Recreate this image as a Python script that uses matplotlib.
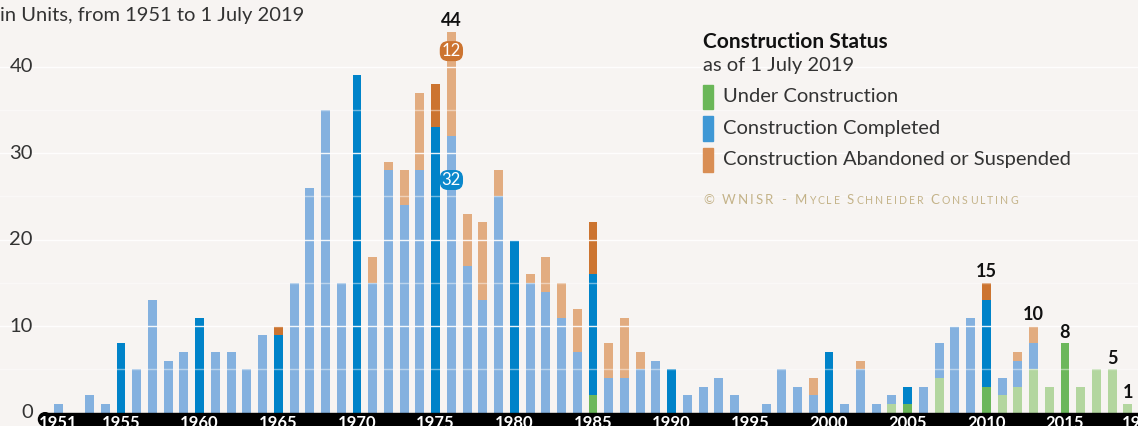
import matplotlib
matplotlib.use("Agg")
import matplotlib.pyplot as plt
from matplotlib.patches import Rectangle, Ellipse

# ==========================
# Data
# ==========================
years = list(range(1951, 2020))

under_construction = [0, 0, 0, 0, 0, 0, 0, 0, 0, 0,
                      0, 0, 0, 0, 0, 0, 0, 0, 0, 0,
                      0, 0, 0, 0, 0, 0, 0, 0, 0, 0,
                      0, 0, 0, 0, 2, 0, 0, 0, 0, 0,
                      0, 0, 0, 0, 0, 0, 0, 0, 0, 0,
                      0, 0, 0, 1, 1, 0, 4, 0, 0, 3,
                      2, 3, 5, 3, 8, 3, 5, 5, 1]

completed = [1, 0, 2, 1, 8, 5, 13, 6, 7, 11,
             7, 7, 5, 9, 9, 15, 26, 35, 15, 39,
             15, 28, 24, 28, 33, 32, 17, 13, 25, 20,
             15, 14, 11, 7, 14, 4, 4, 5, 6, 5,
             2, 3, 4, 2, 0, 1, 5, 3, 2, 7,
             1, 5, 1, 1, 2, 3, 4, 10, 11, 10,
             2, 3, 3, 0, 0, 0, 0, 0, 0]

abandoned = [0, 0, 0, 0, 0, 0, 0, 0, 0, 0,
             0, 0, 0, 0, 1, 0, 0, 0, 0, 0,
             3, 1, 4, 9, 5, 12, 6, 9, 3, 0,
             1, 4, 4, 5, 6, 4, 7, 2, 0, 0,
             0, 0, 0, 0, 0, 0, 0, 0, 2, 0,
             0, 1, 0, 0, 0, 0, 0, 0, 0, 2,
             0, 1, 2, 0, 0, 0, 0, 0, 0]

x_tick_years = [1951, 1955, 1960, 1965, 1970, 1975, 1980, 1985, 1990,
                1995, 2000, 2005, 2010, 2015]
y_ticks = [0, 10, 20, 30, 40]
total_label_years = [1976, 2010, 2013, 2015, 2018, 2019]

legend_labels = ["Under Construction", "Construction Completed",
                 "Construction Abandoned or Suspended"]

# colours: (light, dark) per status; dark for years divisible by 5
green = ("#b3d69f", "#6cb75b")
blue = ("#84b1df", "#0083c9")
orange = ("#e2ac80", "#cc7430")
legend_colors = ["#6ab758", "#3f98d5", "#d98e54"]
bg = "#f7f4f2"
txt = "#333333"

plt.rcParams["font.family"] = ["Lato", "DejaVu Sans"]

fig = plt.figure(figsize=(11.38, 4.26), dpi=100, facecolor=bg)
ax = fig.add_axes([0, 0, 1, 1])
ax.set_facecolor(bg)
ax.set_xlim(1947.31, 2019.64)
ax.set_ylim(-1.54, 47.71)
ax.axis("off")

# ==========================
# Stacked bars
# ==========================
w = 0.57
for i, yr in enumerate(years):
    k = 1 if yr % 5 == 0 else 0
    g, b, o = under_construction[i], completed[i], abandoned[i]
    if g:
        ax.bar(yr, g, width=w, color=green[k], zorder=2)
    if b:
        ax.bar(yr, b, bottom=g, width=w, color=blue[k], zorder=2)
    if o:
        ax.bar(yr, o, bottom=g + b, width=w, color=orange[k], zorder=2)

# white guide lines across the bars
for v in [5, 15, 25, 35]:
    ax.axhline(v, color="white", lw=1, alpha=0.45, zorder=3)
for v in [10, 20, 30, 40]:
    ax.axhline(v, color="white", lw=1, alpha=0.9, zorder=3)

# y tick labels
for v in y_ticks:
    ax.text(1949.4, v, str(v), ha="right", va="center", fontsize=14.5, color=txt)

# black x-axis band with rounded left end
ax.add_patch(Rectangle((1950.17, -3), 80, 3, color="black", zorder=4, clip_on=False))
ax.add_patch(Ellipse((1950.17, -0.77), 0.83, 1.54, color="black", zorder=4))
for yr in x_tick_years:
    ax.annotate(str(yr), (yr, 0), xytext=(0, -1.5), textcoords="offset points",
                ha="center", va="top", fontsize=12, color="white",
                fontweight="bold", zorder=5)
ax.annotate("19", (2018.6, 0), xytext=(0, -1.5), textcoords="offset points",
            ha="left", va="top", fontsize=12, color="white",
            fontweight="bold", zorder=5)

# totals above selected bars
for yr in total_label_years:
    i = years.index(yr)
    tot = under_construction[i] + completed[i] + abandoned[i]
    ax.annotate(str(tot), (yr, tot), xytext=(0, 2), textcoords="offset points",
                ha="center", va="bottom", fontsize=13, fontweight="bold",
                color="#111111", zorder=5)

# boxed segment values on the 1976 bar
i76 = years.index(1976)
ax.text(1976, 26.9, str(completed[i76]), ha="center", va="center", fontsize=12,
        color="white", zorder=6,
        bbox=dict(boxstyle="round,pad=0.12,rounding_size=0.5", fc="#0a88cc", ec="none"))
ax.text(1976, 41.8, str(abandoned[i76]), ha="center", va="center", fontsize=12,
        color="white", zorder=6,
        bbox=dict(boxstyle="round,pad=0.12,rounding_size=0.5", fc="#cc7430", ec="none"))

# ==========================
# Subtitle and legend
# ==========================
fig.text(0.0, 1 - 15 / 426, "in Units, from 1951 to 1 July 2019", ha="left",
         va="center", fontsize=14.5, color=txt)

lx = 703 / 1138
fig.text(lx, 1 - 42 / 426, "Construction Status", ha="left", va="center",
         fontsize=15, fontweight="bold", color="#111111")
fig.text(lx, 1 - 66 / 426, "as of 1 July 2019", ha="left", va="center",
         fontsize=14.5, color=txt)
for j, (lab, c) in enumerate(zip(legend_labels, legend_colors)):
    yc = 97 + j * 31.5
    fig.patches.append(Rectangle((lx, 1 - (yc + 12) / 426), 10 / 1138, 24 / 426,
                                 transform=fig.transFigure, color=c))
    fig.text(723 / 1138, 1 - yc / 426, lab, ha="left", va="center",
             fontsize=14.5, color=txt)

# small-caps copyright line, letter-spaced to the reference width
pieces = [("© WNISR - M", 9.5), ("YCLE ", 7.6), ("S", 9.5), ("CHNEIDER ", 7.6),
          ("C", 9.5), ("ONSULTING", 7.6)]
chars = [(ch, fs) for s, fs in pieces for ch in s]
renderer = fig.canvas.get_renderer()
widths = []
for ch, fs in chars:
    t = fig.text(0, 0, ch.replace(" ", "i"), fontsize=fs)
    wpx = t.get_window_extent(renderer).width
    if ch == " ":
        wpx *= 1.2
    widths.append(wpx)
    t.remove()
track = (315 - sum(widths)) / (len(chars) - 1)
xpos = 703
for (ch, fs), wpx in zip(chars, widths):
    if ch != " ":
        fig.text(xpos / 1138, 1 - 204 / 426, ch, ha="left", va="baseline",
                 fontsize=fs, color="#c4b389")
    xpos += wpx + track

fig.savefig("out.png", dpi=100, facecolor=bg)
